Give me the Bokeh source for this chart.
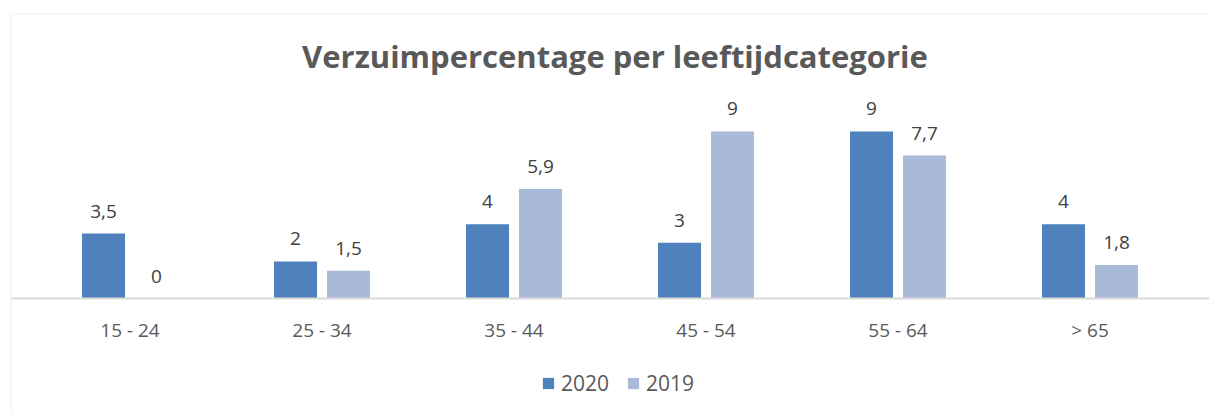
from bokeh.plotting import figure
from bokeh.models import (ColumnDataSource, FactorRange, Range1d, LabelSet, Label, Legend,
                          LegendItem, BoxAnnotation)
from bokeh.core.properties import value
from bokeh.transform import dodge
from bokeh.embed import file_html
from bokeh.resources import INLINE

categories = ["15 - 24", "25 - 34", "35 - 44", "45 - 54", "55 - 64", "> 65"]
values_2020 = [3.5, 2, 4, 3, 9, 4]
values_2019 = [0, 1.5, 5.9, 9, 7.7, 1.8]
series_names = ["2020", "2019"]
title_text = "Verzuimpercentage per leeftijdcategorie"

def fmt(v):
    return f"{v:g}".replace(".", ",")

src = ColumnDataSource(dict(
    cat=categories,
    v2020=values_2020,
    v2019=values_2019,
    l2020=[fmt(v) for v in values_2020],
    l2019=[fmt(v) for v in values_2019],
))

FONT = "Open Sans"
C2020 = "#4F81BD"
C2019 = "#A9B9D8"
Y_MIN, Y_MAX = -6.142, 15.356

p = figure(x_range=FactorRange(*categories, range_padding=0.0408, range_padding_units="percent"),
           y_range=Range1d(Y_MIN, Y_MAX),
           width=1209, height=412, output_backend="svg", toolbar_location=None,
           min_border_left=10, min_border_right=0, min_border_top=13, min_border_bottom=0)

r1 = p.vbar(x=dodge("cat", -0.138, range=p.x_range), top="v2020", width=0.224,
            source=src, fill_color=C2020, line_color=None)
r2 = p.vbar(x=dodge("cat", 0.138, range=p.x_range), top="v2019", width=0.224,
            source=src, fill_color=C2019, line_color=None)

for col, off in (("l2020", -0.138), ("l2019", 0.138)):
    top = "v2020" if col == "l2020" else "v2019"
    p.add_layout(LabelSet(x=dodge("cat", off, range=p.x_range), y=top, text=col, source=src,
                          text_align="center", text_baseline="alphabetic", y_offset=16,
                          text_font=value(FONT), text_font_size=value("19px"),
                          text_color="#404040"))

p.add_layout(Label(x=len(categories) / 2, y=13.05, x_offset=5, text=title_text,
                   text_align="center", text_baseline="alphabetic",
                   text_font=FONT, text_font_size="31px", text_font_style="bold",
                   text_color="#595959"))

p.yaxis.visible = False
p.xgrid.grid_line_color = None
p.ygrid.grid_line_color = None
p.outline_line_color = None

# chart-area border: left and top edges on the frame, right/bottom run off the page
p.add_layout(BoxAnnotation(right=len(categories) + 1, bottom=Y_MIN - 1,
                           fill_alpha=0, line_color="#D9D9D9", line_width=3))

ax = p.xaxis[0]
ax.fixed_location = 0
ax.axis_line_color = "#D9D9D9"
ax.axis_line_width = 2
ax.major_tick_line_color = None
ax.minor_tick_line_color = None
ax.major_tick_out = 0
ax.major_label_standoff = 18
ax.major_label_text_font = FONT
ax.major_label_text_font_size = "19px"
ax.major_label_text_color = "#595959"

legend = Legend(items=[LegendItem(label=series_names[0], renderers=[r1]),
                       LegendItem(label=series_names[1], renderers=[r2])],
                orientation="horizontal", location=(531, 15),
                glyph_width=14, glyph_height=14, label_standoff=6, spacing=17,
                padding=0, margin=0, border_line_color=None, background_fill_alpha=0,
                label_text_font=FONT, label_text_font_size="21px", label_text_color="#595959")
p.add_layout(legend, "center")

open("out.html", "w").write(file_html(p, INLINE))
